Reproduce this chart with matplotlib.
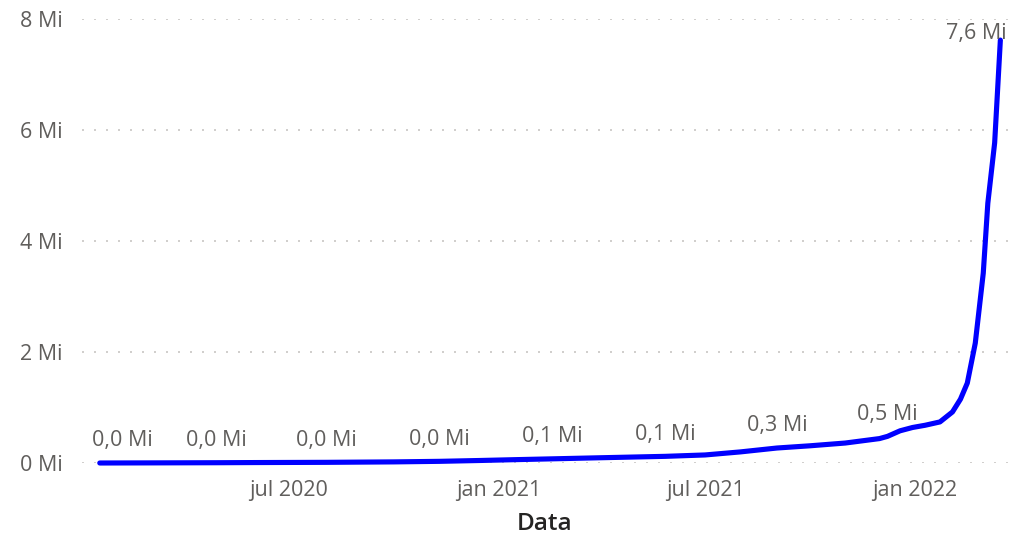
import pandas as pd
import numpy as np
import matplotlib.pyplot as plt
import matplotlib.dates as mdates

plt.rcParams['font.family'] = ['Open Sans', 'DejaVu Sans']

# cumulative total (millions)
dates = ['2020-01-17', '2020-03-01', '2020-04-28', '2020-06-01', '2020-08-03',
         '2020-10-01', '2020-11-10', '2020-12-15', '2021-01-15', '2021-02-17',
         '2021-04-01', '2021-05-27', '2021-07-01', '2021-08-01', '2021-09-02',
         '2021-10-01', '2021-11-01', '2021-12-01', '2021-12-08', '2021-12-19',
         '2021-12-30', '2022-01-10', '2022-01-23', '2022-02-03', '2022-02-10',
         '2022-02-16', '2022-02-23', '2022-03-02', '2022-03-06', '2022-03-12',
         '2022-03-17']
values = [0.000, 0.002, 0.005, 0.008, 0.012,
          0.020, 0.030, 0.045, 0.060, 0.075,
          0.095, 0.120, 0.145, 0.200, 0.270,
          0.310, 0.360, 0.440, 0.480, 0.580,
          0.640, 0.680, 0.740, 0.920, 1.150,
          1.440, 2.160, 3.420, 4.680, 5.770,
          7.620]
label_dates = ['2020-01-17', '2020-04-28', '2020-08-03', '2020-11-10', '2021-02-17',
               '2021-05-27', '2021-09-02', '2021-12-08', '2022-03-17']
tick_dates = ['2020-07-01', '2021-01-01', '2021-07-01', '2022-01-01']
tick_labels = ['jul 2020', 'jan 2021', 'jul 2021', 'jan 2022']
y_ticks = [0, 2, 4, 6, 8]
y_labels = ['0 Mi', '2 Mi', '4 Mi', '6 Mi', '8 Mi']

df = pd.DataFrame({'Data': pd.to_datetime(dates), 'Total': values})

fig = plt.figure(figsize=(10.11, 5.34), dpi=100)
ax = fig.add_axes([82/1011, 1-463/534, 926/1011, 444/534])

# pixel -> date mapping (jul 2020 at x=289, 1.14 px/day)
ref = mdates.date2num(pd.Timestamp('2020-07-01'))
ax.set_xlim(ref + (82-289)/1.14, ref + (1008-289)/1.14)
ax.set_ylim(0, 8)

ax.plot(df['Data'], df['Total'], color='#0000FF', lw=3.7, solid_capstyle='round',
        solid_joinstyle='round', clip_on=False, zorder=3)

grey = '#605E5C'
fs = 15.5
ax.set_yticks(y_ticks)
ax.set_yticklabels(y_labels, fontsize=fs, color=grey)
ax.set_xticks(pd.to_datetime(tick_dates))
ax.set_xticklabels(tick_labels, fontsize=fs, color=grey)
ax.tick_params(length=0)
ax.tick_params(axis='y', pad=14)
ax.tick_params(axis='x', pad=12)
ax.grid(axis='y', color='#C8C6C4', lw=1.2, linestyle=(0, (1.2, 6)))
ax.set_axisbelow(True)
for s in ax.spines.values():
    s.set_visible(False)

ax.set_xlabel('Data', fontsize=17.5, color='#252423', fontweight='semibold', labelpad=8)

# data labels
for i, d in enumerate(label_dates):
    row = df[df['Data'] == pd.Timestamp(d)].iloc[0]
    txt = f"{row['Total']:.1f} Mi".replace('.', ',')
    dx, dy = 0, 16
    if i == 0:
        dx = 16
    if i == len(label_dates) - 1:
        dx, dy = -17, 5
    ax.annotate(txt, (row['Data'], row['Total']), xytext=(dx, dy), textcoords='offset points',
                ha='center', va='center', fontsize=fs, color=grey, annotation_clip=False)

fig.savefig('out.png', dpi=100)
